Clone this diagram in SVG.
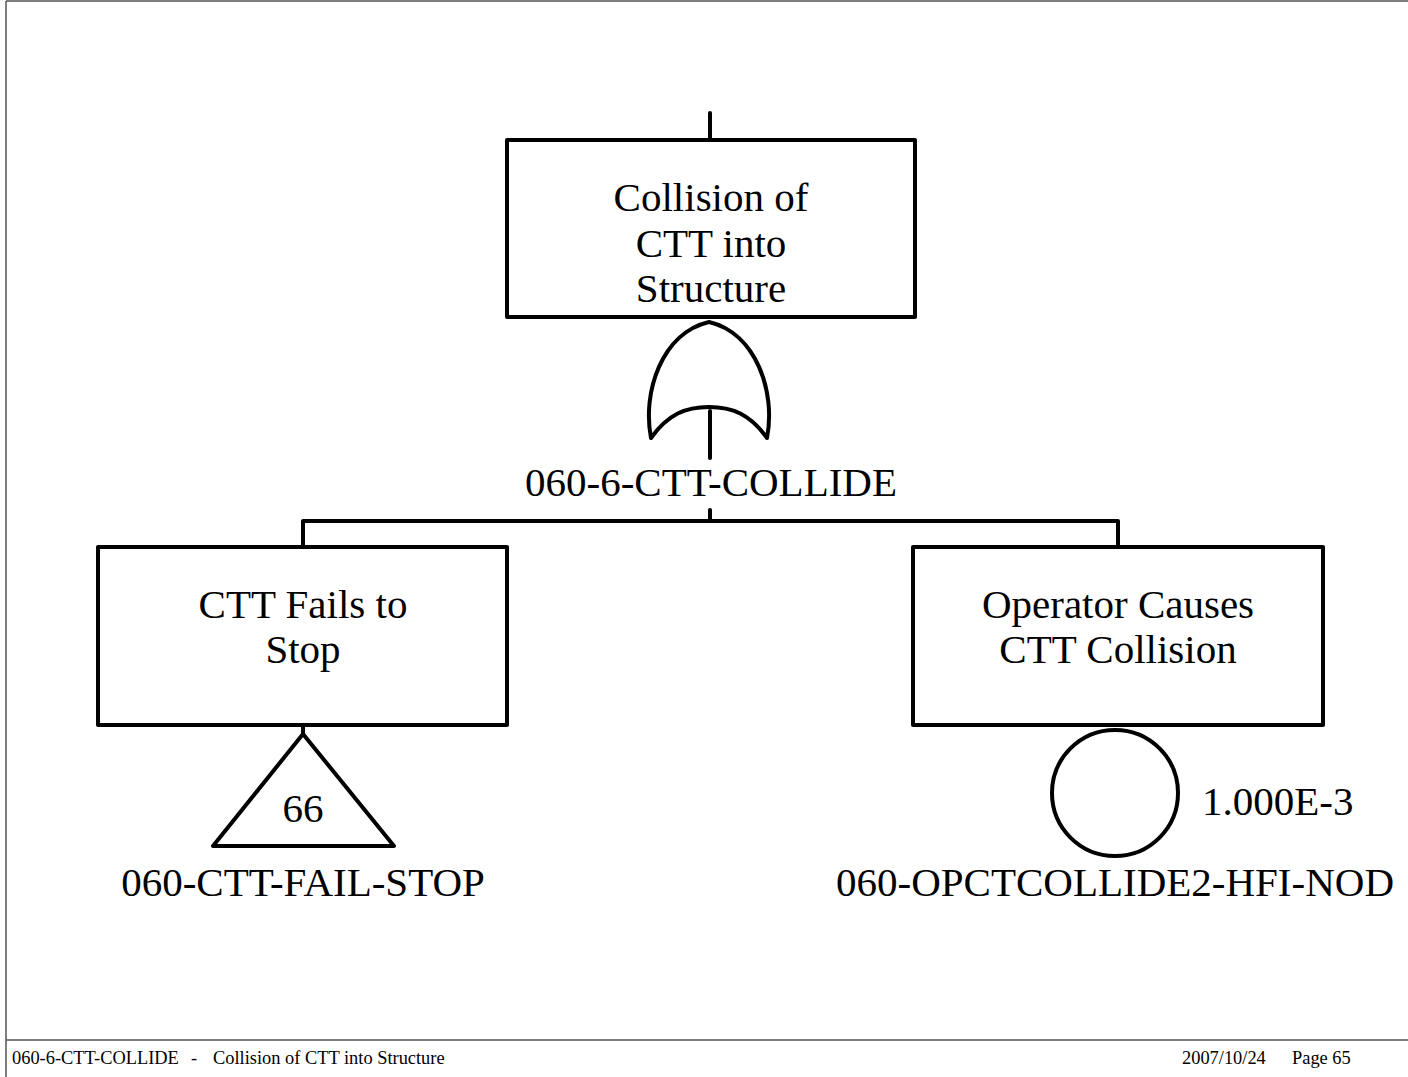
<svg xmlns="http://www.w3.org/2000/svg" width="1408" height="1077" viewBox="0 0 1408 1077">
<style>
.s{fill:none;stroke:#000;stroke-width:4;stroke-linejoin:round;stroke-linecap:round}
.b{fill:#fff;stroke:#000;stroke-width:4;stroke-linejoin:round}
.t{font-family:"Liberation Serif","Times New Roman",serif;font-size:41px;fill:#000;text-anchor:middle}
.f{font-family:"Liberation Serif","Times New Roman",serif;font-size:18.4px;fill:#000}
.fr{fill:none;stroke:#555;stroke-width:1.5}
</style>
<rect width="1408" height="1077" fill="#fff"/>
<g id="frame">
<line class="fr" x1="6" y1="1" x2="1408" y2="1"/>
<line class="fr" x1="6" y1="1" x2="6" y2="1077" stroke="#222"/>
<line class="fr" x1="6" y1="1040" x2="1408" y2="1040"/>
</g>
<g id="connectors">
<line class="s" x1="710" y1="113" x2="710" y2="140"/>
<line class="s" x1="710" y1="510" x2="710" y2="521"/>
<polyline class="s" points="303,547 303,521 1118,521 1118,547"/>
<line class="s" x1="303" y1="725" x2="303" y2="734"/>
</g>
<g id="top-event">
<rect class="b" x="507" y="140" width="408" height="177"/>
<text class="t" x="711" y="211">Collision of</text>
<text class="t" x="711" y="257">CTT into</text>
<text class="t" x="711" y="302">Structure</text>
</g>
<g id="or-gate">
<path class="b" d="M651,438 C642,392 662,333 709,322 C756,333 776,392 767,438 C750,414 732,407 709,407 C686,407 668,414 651,438 Z"/>
<line class="s" x1="710" y1="411" x2="710" y2="458"/>
<text class="t" x="711" y="496">060-6-CTT-COLLIDE</text>
</g>
<g id="fails-to-stop">
<rect class="b" x="98" y="547" width="409" height="178"/>
<text class="t" x="303" y="618">CTT Fails to</text>
<text class="t" x="303" y="663">Stop</text>
</g>
<g id="transfer-66">
<polygon class="b" points="303,734 394,846 213,846"/>
<text class="t" x="303" y="822">66</text>
<text class="t" x="303" y="896">060-CTT-FAIL-STOP</text>
</g>
<g id="operator-causes">
<rect class="b" x="913" y="547" width="410" height="178"/>
<text class="t" x="1118" y="618">Operator Causes</text>
<text class="t" x="1118" y="663">CTT Collision</text>
</g>
<g id="basic-event">
<circle class="b" cx="1115" cy="793" r="63"/>
<text class="t" x="1202" y="815" style="text-anchor:start">1.000E-3</text>
<text class="t" x="1115" y="896">060-OPCTCOLLIDE2-HFI-NOD</text>
</g>
<g id="footer">
<text class="f" x="12" y="1064">060-6-CTT-COLLIDE</text>
<text class="f" x="191" y="1064">-</text>
<text class="f" x="213" y="1064">Collision of CTT into Structure</text>
<text class="f" x="1182" y="1064">2007/10/24</text>
<text class="f" x="1292" y="1064">Page 65</text>
</g>
</svg>
